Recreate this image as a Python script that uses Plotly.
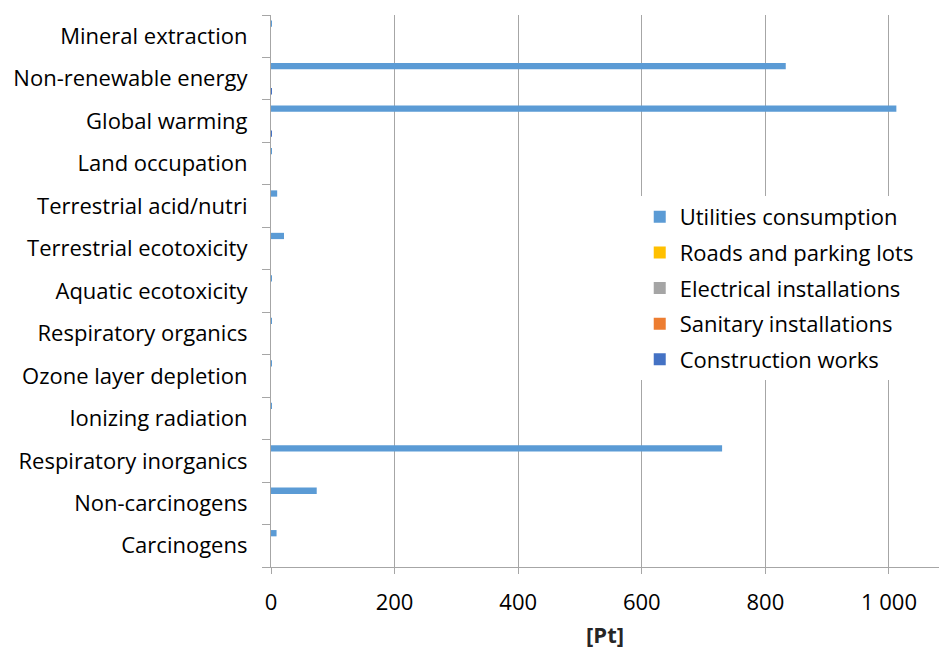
import plotly.graph_objects as go

categories = ["Carcinogens", "Non-carcinogens", "Respiratory inorganics", "Ionizing radiation",
              "Ozone layer depletion", "Respiratory organics", "Aquatic ecotoxicity",
              "Terrestrial ecotoxicity", "Terrestrial acid/nutri", "Land occupation",
              "Global warming", "Non-renewable energy", "Mineral extraction"]

series_names = ["Construction works", "Sanitary installations", "Electrical installations",
                "Roads and parking lots", "Utilities consumption"]
construction_works = [0, 0, 0, 0, 0, 0, 0, 0, 0, 0, 1.5, 1.5, 0]
sanitary_installations = [0, 0, 0, 0, 0, 0, 0, 0, 0, 0, 0, 0, 0]
electrical_installations = [0, 0, 0, 0, 0, 0, 0, 0, 0, 0, 0, 0, 0]
roads_parking = [0, 0, 0, 0, 0, 0, 0, 0, 0, 0, 0, 0, 0]
utilities_consumption = [9, 74, 730, 0.1, 0.05, 0.1, 0.1, 21, 10, 0.2, 1012, 833, 0.1]

series_values = [construction_works, sanitary_installations, electrical_installations,
                 roads_parking, utilities_consumption]
colors = ["#4472C4", "#ED7D31", "#A5A5A5", "#FFC000", "#5B9BD5"]
legend_ranks = [5, 4, 3, 2, 1]

x_ticks = [0, 200, 400, 600, 800, 1000]
x_tick_labels = ["0", "200", "400", "600", "800", "1 000"]

FONT = "Open Sans, Noto Sans, sans-serif"
FS = 22

fig = go.Figure()
for name, vals, col, rk in zip(series_names, series_values, colors, legend_ranks):
    fig.add_trace(go.Bar(y=categories, x=vals, name=name, orientation="h",
                         marker=dict(color=col, line=dict(width=0)),
                         legendgroup=name, legendrank=rk))

fig.update_layout(
    width=939, height=649,
    margin=dict(l=271, r=0, t=15, b=82, autoexpand=False),
    paper_bgcolor="white", plot_bgcolor="white",
    barmode="group", bargap=0.26, bargroupgap=0,
    font=dict(family=FONT, size=FS, color="#000000"),
    showlegend=True,
    legend=dict(x=0.552, y=0.672, xanchor="left", yanchor="top",
                tracegroupgap=4,
                bgcolor="white", font=dict(family=FONT, size=FS, color="#000000"),
                itemwidth=30),
)
fig.update_xaxes(range=[0, 1081], tickvals=x_ticks, ticktext=x_tick_labels,
                 showgrid=True, gridcolor="#A6A6A6", gridwidth=1.3,
                 showline=True, linecolor="#A6A6A6", linewidth=1.3,
                 ticks="outside", ticklen=6, tickcolor="#A6A6A6",
                 zeroline=False, automargin=False, ticklabelstandoff=9,
                 tickfont=dict(family=FONT, size=FS, color="#000000"),
                 title=dict(text="<b>[Pt]</b>", font=dict(family=FONT, size=FS, color="#262626"),
                            standoff=18))
fig.update_yaxes(categoryorder="array", categoryarray=categories,
                 showgrid=False, showline=True, linecolor="#A6A6A6", linewidth=1.3,
                 ticks="outside", ticklen=8, tickcolor="#A6A6A6", tickson="boundaries",
                 ticklabelstandoff=18, automargin=False,
                 tickfont=dict(family=FONT, size=FS, color="#000000"))

fig.write_html("out.html", config={"displayModeBar": False},
               post_script="document.body.style.margin='0';document.body.style.overflow='hidden';")
